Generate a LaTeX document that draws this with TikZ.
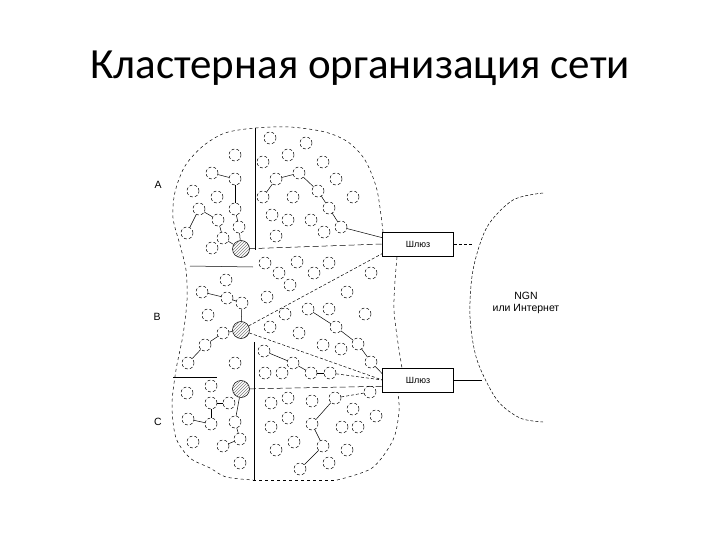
\documentclass[tikz,border=0pt]{standalone}
\usepackage{fontspec}
\setmainfont{Liberation Sans}
\newfontfamily\titlefont{Carlito}
\usetikzlibrary{
    patterns
}
\tikzset{
  host/.style={
    draw,
    circle,
    densely dashed,
    minimum size=12pt,
    inner sep=0pt
  },
  head/.style={
    draw,
    circle,
    pattern=north east lines,
    pattern color=gray,
    minimum size=17pt,
    inner sep=0pt
  },
  gate/.style={
    draw,
    rectangle,
    minimum width=71pt,
    minimum height=24pt,
    font=\fontsize{9}{11}\selectfont
  },
  zone/.style={
    font=\fontsize{10.5}{12}\selectfont
  },
  border/.style={
    dashed
  },
  sector/.style={
    dash pattern=on 6pt off 3pt
  }
}

\begin{document}
\begin{tikzpicture}[x=1pt,y=-1pt,line width=0.5pt]
    \useasboundingbox (0,0) rectangle (720,540);

    % заголовок
    \node[anchor=base,font=\titlefont\fontsize{43}{50}\selectfont] (title) at (360,79) {Кластерная организация сети};

    % шлюзы и сеть
    \node[gate] (G1) at (418,244) {Шлюз};
    \node[gate] (G2) at (418,380) {Шлюз};
    \node[zone,align=center] (ngn) at (526,303) {NGN\\или Интернет};
    \coordinate (n1) at (472,244);
    \coordinate (n2) at (482,380);

    % кластеры
    \node[zone] (lA) at (158,185) {A};
    \node[zone] (lB) at (157,317) {B};
    \node[zone] (lC) at (158,422) {C};

    % головные узлы
    \node[head] (hA) at (241,249) {};
    \node[head] (hB) at (241,330) {};
    \node[head] (hC) at (241,389) {};

    % узлы
    \foreach \n/\x/\y in {a1/235/155,a2/212/173,a3/235/179,a4/193/191,a5/217/197,a6/199/209,
        a7/235/209,a8/218/220,a9/239/227,a10/187/233,a11/223/238,a12/212/248}
        \node[host] (\n) at (\x,\y) {};
    \foreach \n/\x/\y in {b1/270/138,b2/306/143,b3/288/155,b4/263/162,b5/323/162,b6/299/173,
        b7/276/179,b8/336/179,b9/318/191,b10/263/197,b11/293/197,b12/353/197,b13/329/208,
        b14/272/215,b15/288/220,b16/311/220,b17/341/227,b18/324/232,b19/276/236}
        \node[host] (\n) at (\x,\y) {};
    \foreach \n/\x/\y in {c1/226/280,c2/202/292,c3/227/298,c4/242/303,c5/208/315,c6/223/333,
        c7/205/345,c8/188/363,c9/235/363}
        \node[host] (\n) at (\x,\y) {};
    \foreach \n/\x/\y in {d1/265/263,d2/297/262,d3/329/263,d4/279/273,d5/314/273,d6/371/273,
        d7/290/285,d8/267/297,d9/347/292}
        \node[host] (\n) at (\x,\y) {};
    \foreach \n/\x/\y in {e1/285/314,e2/308/309,e3/329/309,e4/365/314,e5/270/327,e6/336/327,
        e7/299/333,e8/323/345,e9/341/349,e10/358/344,e11/371/362}
        \node[host] (\n) at (\x,\y) {};
    \foreach \n/\x/\y in {f1/264/351,f2/293/363,f3/311/373,f4/330/373,f5/265/373,f6/282/373}
        \node[host] (\n) at (\x,\y) {};
    \foreach \n/\x/\y in {g1/187/393,g2/211/386,g3/211/403,g4/229/403,g5/188/419,g6/211/424,
        g7/235/422,g8/193/442,g9/240/439,g10/223/446,g11/240/463}
        \node[host] (\n) at (\x,\y) {};
    \foreach \n/\x/\y in {h1/370/392,h2/335/398,h3/288/398,h4/312/401,h5/271/403,h6/353/409,
        h7/376/416,h8/288/418,h9/271/427,h10/312/424,h11/342/427,h12/358/427,h13/294/442,
        h14/323/446,h15/276/450,h16/347/450,h17/329/463,h18/300/469}
        \node[host] (\n) at (\x,\y) {};

    % связи
    \draw (a2) -- (a3);
    \draw (a3) -- (a7);
    \draw (a7) -- (a9);
    \draw (a9) -- (hA);
    \draw (a6) -- (a10);
    \draw (a6) -- (a8);
    \draw (a8) -- (a11);
    \draw (a11) -- (hA);
    \draw (b7) -- (b6);
    \draw (b7) -- (b10);
    \draw (b6) -- (b9);
    \draw (b9) -- (b13);
    \draw (b13) -- (b17);
    \draw (b17) -- (G1.170);
    \draw (c2) -- (c3);
    \draw (c3) -- (c4);
    \draw (c4) -- (hB);
    \draw (hB) -- (c6);
    \draw (c6) -- (c7);
    \draw (c7) -- (c8);
    \draw (e2) -- (e6);
    \draw (e6) -- (e10);
    \draw (e10) -- (e11);
    \draw (e11) -- (G2.170);
    \draw (f1) -- (f2);
    \draw (f2) -- (f3);
    \draw (f3) -- (f4);
    \draw[densely dashed] (f4) -- (G2.west);
    \draw (hC) -- (g7);
    \draw (g3) -- (g4);
    \draw (g3) -- (g6);
    \draw (g5) -- (g6);
    \draw (g7) -- (g9);
    \draw (g9) -- (g10);
    \draw[densely dashed] (h2) -- (h1);
    \draw (h2) -- (h10);
    \draw (h10) -- (h14);
    \draw (h14) -- (h18);

    % границы секторов
    \draw[sector] (hA) -- (G1.west);
    \draw[densely dashed] (hB) -- (G1.195);
    \draw[densely dashed] (hB) -- (G2.west);
    \draw[sector] (hC) -- (G2.190);
    \draw (255,128) -- (255,250);
    \draw (190,266) -- (253,267);
    \draw (173,377) -- (217,377);
    \draw (254,342) -- (254,480);

    % контур кластеров
    \draw[border] (G1.north west) plot[smooth] coordinates {(383,232) (377,190) (365,160) (348,142)
        (325,132) (290,127) (255,128) (225,133) (203,146) (185,166) (175,192) (173,218)
        (180,245) (186,270) (187,300) (183,335) (176,370) (172,405) (176,438) (190,458)
        (210,468) (226,477) (253,480)};
    \draw[border] (253,480) -- (337,480);
    \draw[border] plot[smooth] coordinates {(337,480) (372,468) (393,440) (399,412) (398,393)};
    \draw[border] plot[smooth] coordinates {(397,257) (394,310) (402,368)};

    % сеть NGN
    \draw[densely dashed] (G1.east) -- (n1);
    \draw (G2.east) -- (n2);
    \draw[densely dashed] plot[smooth] coordinates {(543,193) (513,200) (487,227) (473,270)
        (470,317) (477,360) (497,400) (520,418) (543,422)};
\end{tikzpicture}
\end{document}
